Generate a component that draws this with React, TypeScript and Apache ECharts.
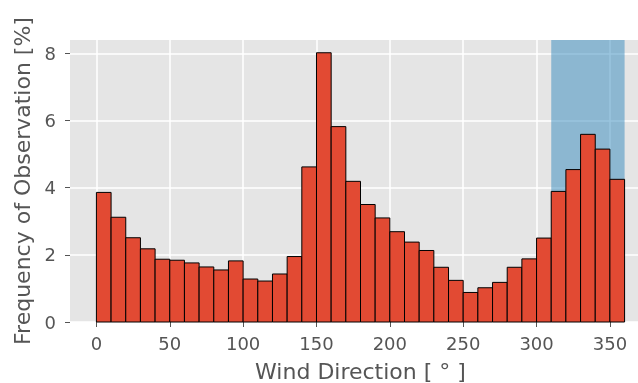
import React, { useEffect, useRef } from "react";
import * as echarts from "echarts";

const binStarts = [0, 10, 20, 30, 40, 50, 60, 70, 80, 90, 100, 110, 120, 130, 140, 150, 160, 170, 180, 190, 200, 210, 220, 230, 240, 250, 260, 270, 280, 290, 300, 310, 320, 330, 340, 350];
const frequency = [3.86, 3.12, 2.51, 2.18, 1.87, 1.84, 1.76, 1.64, 1.55, 1.82, 1.28, 1.22, 1.43, 1.95, 4.62, 8.02, 5.82, 4.19, 3.5, 3.1, 2.69, 2.38, 2.13, 1.63, 1.24, 0.88, 1.02, 1.18, 1.63, 1.88, 2.5, 3.89, 4.54, 5.59, 5.15, 4.25];
const binWidth = 10;
const xTicks = [0, 50, 100, 150, 200, 250, 300, 350];
const yTicks = [0, 2, 4, 6, 8];
const spanRange = [310, 360];

const TEXT = "#555555";
const FONT = "DejaVu Sans";

export default function App() {
  const ref = useRef<HTMLDivElement>(null);
  useEffect(() => {
    if (!ref.current) return;
    const chart = echarts.init(ref.current, undefined, { renderer: "svg" });
    const data = binStarts.map((s, i) => [s, s + binWidth, frequency[i]]);
    chart.setOption({
      animation: false,
      grid: {
        left: 70,
        top: 40,
        bottom: 61,
        width: 581,
        outerBoundsMode: "none",
        containLabel: false,
        show: true,
        backgroundColor: "#E5E5E5",
        borderWidth: 0,
      },
      xAxis: {
        type: "value",
        min: -18,
        max: 378,
        name: "Wind Direction [ ° ]",
        nameLocation: "middle",
        nameGap: 38,
        nameTextStyle: { color: TEXT, fontSize: 22, fontFamily: FONT },
        axisLine: { show: false, onZero: false },
        axisTick: { show: true, length: 5, customValues: xTicks, lineStyle: { color: TEXT, width: 1 } },
        axisLabel: { customValues: xTicks, color: TEXT, fontSize: 18, fontFamily: FONT, margin: 12 },
        splitLine: { show: true, lineStyle: { color: "#FFFFFF", width: 1.5 } },
      },
      yAxis: {
        type: "value",
        min: 0,
        max: 8.4,
        interval: 2,
        name: "Frequency of Observation [%]",
        nameLocation: "middle",
        nameGap: 35,
        nameTextStyle: { color: TEXT, fontSize: 22, fontFamily: FONT },
        axisLine: { show: false, onZero: false },
        axisTick: { show: true, length: 5, customValues: yTicks, lineStyle: { color: TEXT, width: 1 } },
        axisLabel: { customValues: yTicks, color: TEXT, fontSize: 18, fontFamily: FONT, margin: 14 },
        splitLine: { show: true, lineStyle: { color: "#FFFFFF", width: 1.5 } },
      },
      series: [
        {
          type: "line",
          data: [],
          z: 1,
          silent: true,
          markArea: {
            silent: true,
            itemStyle: { color: "rgba(52,138,189,0.5)" },
            data: [[{ xAxis: spanRange[0] }, { xAxis: spanRange[1] }]],
          },
        },
        {
          type: "custom",
          z: 3,
          data,
          renderItem: (params: any, api: any) => {
            const p0 = api.coord([api.value(0), api.value(2)]);
            const p1 = api.coord([api.value(1), 0]);
            return {
              type: "rect",
              shape: { x: p0[0], y: p0[1], width: p1[0] - p0[0], height: p1[1] - p0[1] },
              style: { fill: "#E24A33", stroke: "#000000", lineWidth: 1 },
            };
          },
          encode: { x: [0, 1], y: 2 },
        },
      ],
    });
    return () => chart.dispose();
  }, []);
  return <div ref={ref} style={{ position: "fixed", left: 0, top: 0, width: 638, height: 383 }} />;
}
